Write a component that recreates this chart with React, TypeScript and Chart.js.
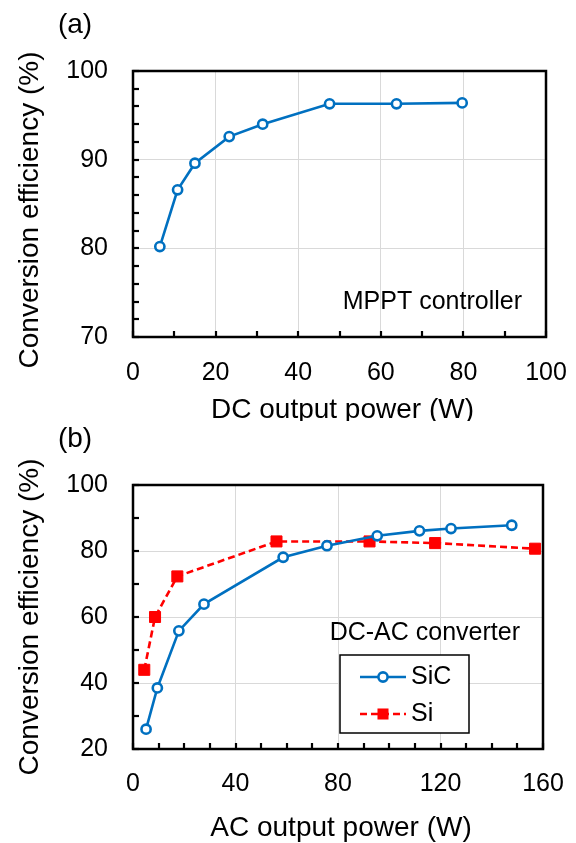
import React, { useEffect, useRef } from 'react';
import { Chart, registerables } from 'chart.js';

Chart.register(...registerables);

const FONT = '"Liberation Sans", Arial, Helvetica, sans-serif';

// ---- Panel (a): MPPT controller ----
const dcPower = [6.5, 10.8, 15.0, 23.3, 31.4, 47.6, 63.8, 79.7];
const mpptEff = [80.2, 86.6, 89.6, 92.6, 94.0, 96.3, 96.3, 96.4];
const aXTicks = [0, 20, 40, 60, 80, 100];
const aYTicks = [70, 80, 90, 100];

// ---- Panel (b): DC-AC converter ----
const sicPower = [5.1, 9.5, 17.9, 27.7, 58.6, 75.7, 95.3, 111.8, 124.1, 147.8];
const sicEff = [26.0, 38.5, 55.8, 63.9, 78.1, 81.6, 84.6, 86.1, 86.8, 87.8];
const siPower = [4.4, 8.6, 17.3, 56.0, 92.3, 117.9, 156.9];
const siEff = [44.0, 60.0, 72.3, 82.9, 82.9, 82.4, 80.7];
const bXTicks = [0, 40, 80, 120, 160];
const bYTicks = [20, 40, 60, 80, 100];

const BLUE = '#0070C0';
const RED = '#FF0000';
const GRID = '#d9d9d9';

type Spec = {
  tag: string;
  xTicks: number[];
  yTicks: number[];
  xMinor: number;
  yMinor: number;
  xTitle: string;
  yTitle: string;
  panel: string;
  panelY: number;
  xLabelY: number;
  xTitleY: number;
  yTitleY: number;
  note: string;
  noteRight: number;
  noteY: number;
  legend?: { x0: number; y0: number; w: number; h: number };
};

function decor(spec: Spec) {
  return {
    id: 'decor' + spec.tag,
    afterDraw(chart: any) {
      const { ctx, chartArea: a, scales } = chart;
      const x = scales.x;
      const y = scales.y;
      ctx.save();
      // inward tick marks
      ctx.strokeStyle = '#000';
      ctx.lineWidth = 2.2;
      for (let v = y.min; v <= y.max + 1e-9; v += spec.yMinor) {
        const py = Math.round(y.getPixelForValue(v));
        ctx.beginPath();
        ctx.moveTo(a.left, py);
        ctx.lineTo(a.left + 6, py);
        ctx.stroke();
      }
      for (let v = x.min; v <= x.max + 1e-9; v += spec.xMinor) {
        const px = Math.round(x.getPixelForValue(v));
        ctx.beginPath();
        ctx.moveTo(px, a.bottom);
        ctx.lineTo(px, a.bottom - 6);
        ctx.stroke();
      }
      // frame
      ctx.lineWidth = 2.5;
      ctx.strokeRect(a.left, a.top, a.right - a.left, a.bottom - a.top);

      // tick labels
      ctx.fillStyle = '#000';
      ctx.font = `25px ${FONT}`;
      ctx.textAlign = 'right';
      ctx.textBaseline = 'middle';
      spec.yTicks.forEach((v) => ctx.fillText(String(v), a.left - 25, y.getPixelForValue(v)));
      ctx.textAlign = 'center';
      spec.xTicks.forEach((v) => ctx.fillText(String(v), x.getPixelForValue(v), spec.xLabelY));

      // axis titles
      ctx.font = `28px ${FONT}`;
      ctx.fillText(spec.xTitle, (a.left + a.right) / 2 + 3, spec.xTitleY);
      ctx.save();
      ctx.translate(30, spec.yTitleY);
      ctx.rotate(-Math.PI / 2);
      ctx.fillText(spec.yTitle, 0, 0);
      ctx.restore();

      // panel label
      ctx.fillText(spec.panel, 75, spec.panelY);

      // note
      ctx.font = `25px ${FONT}`;
      ctx.textAlign = 'right';
      ctx.fillText(spec.note, spec.noteRight, spec.noteY);

      // legend
      if (spec.legend) {
        const L = spec.legend;
        ctx.fillStyle = '#fff';
        ctx.fillRect(L.x0, L.y0, L.w, L.h);
        ctx.strokeStyle = '#000';
        ctx.lineWidth = 1.5;
        ctx.strokeRect(L.x0, L.y0, L.w, L.h);
        const ds = chart.data.datasets;
        ds.forEach((d: any, i: number) => {
          const ly = L.y0 + 22 + i * 37;
          const lx0 = L.x0 + 20;
          const lx1 = L.x0 + 66;
          const mx = (lx0 + lx1) / 2;
          ctx.save();
          ctx.strokeStyle = d.borderColor;
          ctx.lineWidth = d.borderWidth;
          ctx.setLineDash(d.borderDash || []);
          ctx.beginPath();
          ctx.moveTo(lx0, ly);
          ctx.lineTo(lx1, ly);
          ctx.stroke();
          ctx.setLineDash([]);
          if (d.pointStyle === 'rect') {
            const s = Math.SQRT1_2 * d.pointRadius;
            ctx.fillStyle = d.pointBackgroundColor;
            ctx.fillRect(mx - s, ly - s, 2 * s, 2 * s);
          } else {
            ctx.beginPath();
            ctx.arc(mx, ly, d.pointRadius, 0, Math.PI * 2);
            ctx.fillStyle = d.pointBackgroundColor;
            ctx.fill();
            ctx.lineWidth = d.pointBorderWidth;
            ctx.strokeStyle = d.pointBorderColor;
            ctx.stroke();
          }
          ctx.restore();
          ctx.fillStyle = '#000';
          ctx.font = `25px ${FONT}`;
          ctx.textAlign = 'left';
          ctx.textBaseline = 'middle';
          ctx.fillText(d.label, lx1 + 5, ly);
        });
      }
      ctx.restore();
    },
  };
}

function axis(min: number, max: number, ticks: number[]) {
  return {
    type: 'linear' as const,
    min,
    max,
    afterBuildTicks: (scale: any) => {
      scale.ticks = ticks.map((v) => ({ value: v }));
    },
    afterFit: (scale: any) => {
      if (scale.isHorizontal()) scale.height = 0;
      else scale.width = 0;
    },
    ticks: { display: false },
    border: { display: false },
    grid: { color: GRID, lineWidth: 1, drawTicks: false },
    title: { display: false },
  };
}

function pts(xs: number[], ys: number[]) {
  return xs.map((v, i) => ({ x: v, y: ys[i] }));
}

export default function App() {
  const refA = useRef<HTMLCanvasElement>(null);
  const refB = useRef<HTMLCanvasElement>(null);

  useEffect(() => {
    document.body.style.margin = '0';
    const common = {
      responsive: false,
      animation: false as const,
      plugins: { legend: { display: false }, tooltip: { enabled: false } },
    };
    const circle = {
      borderColor: BLUE,
      borderWidth: 2.6,
      pointStyle: 'circle',
      pointRadius: 4.6,
      pointBorderWidth: 2.6,
      pointBorderColor: BLUE,
      pointBackgroundColor: '#fff',
      tension: 0,
    };
    const chartA = new Chart(refA.current!, {
      type: 'line',
      data: {
        datasets: [{ label: 'MPPT', data: pts(dcPower, mpptEff), ...circle }],
      },
      options: {
        ...common,
        layout: { padding: { left: 133, right: 30, top: 71, bottom: 84 } },
        scales: { x: axis(0, 100, aXTicks), y: axis(70, 100, aYTicks) },
      } as any,
      plugins: [
        decor({
          tag: 'A',
          xTicks: aXTicks,
          yTicks: aYTicks,
          xMinor: 10,
          yMinor: 2,
          xTitle: 'DC output power (W)',
          yTitle: 'Conversion efficiency (%)',
          panel: '(a)',
          panelY: 25,
          xLabelY: 373,
          xTitleY: 410,
          yTitleY: 210,
          note: 'MPPT controller',
          noteRight: 522,
          noteY: 302,
        }),
      ],
    });
    const chartB = new Chart(refB.current!, {
      type: 'line',
      data: {
        datasets: [
          { label: 'SiC', data: pts(sicPower, sicEff), ...circle },
          {
            label: 'Si',
            data: pts(siPower, siEff),
            borderColor: RED,
            borderWidth: 2.6,
            borderDash: [7, 4],
            pointStyle: 'rect',
            pointRadius: 7.8,
            pointBorderWidth: 1,
            pointBorderColor: RED,
            pointBackgroundColor: RED,
            tension: 0,
          },
        ],
      },
      options: {
        ...common,
        layout: { padding: { left: 133, right: 33, top: 64, bottom: 94 } },
        scales: { x: axis(0, 160, bXTicks), y: axis(20, 100, bYTicks) },
      } as any,
      plugins: [
        decor({
          tag: 'B',
          xTicks: bXTicks,
          yTicks: bYTicks,
          xMinor: 10,
          yMinor: 10,
          xTitle: 'AC output power (W)',
          yTitle: 'Conversion efficiency (%)',
          panel: '(b)',
          panelY: 18,
          xLabelY: 363,
          xTitleY: 407,
          yTitleY: 196,
          note: 'DC-AC converter',
          noteRight: 520,
          noteY: 212,
          legend: { x0: 340, y0: 234, w: 129, h: 78 },
        }),
      ],
    });
    return () => {
      chartA.destroy();
      chartB.destroy();
    };
  }, []);

  return (
    <div style={{ position: 'relative', width: 576, height: 843 }}>
      <canvas ref={refA} width={576} height={421} style={{ position: 'absolute', left: 0, top: 0 }} />
      <canvas ref={refB} width={576} height={422} style={{ position: 'absolute', left: 0, top: 421 }} />
    </div>
  );
}
